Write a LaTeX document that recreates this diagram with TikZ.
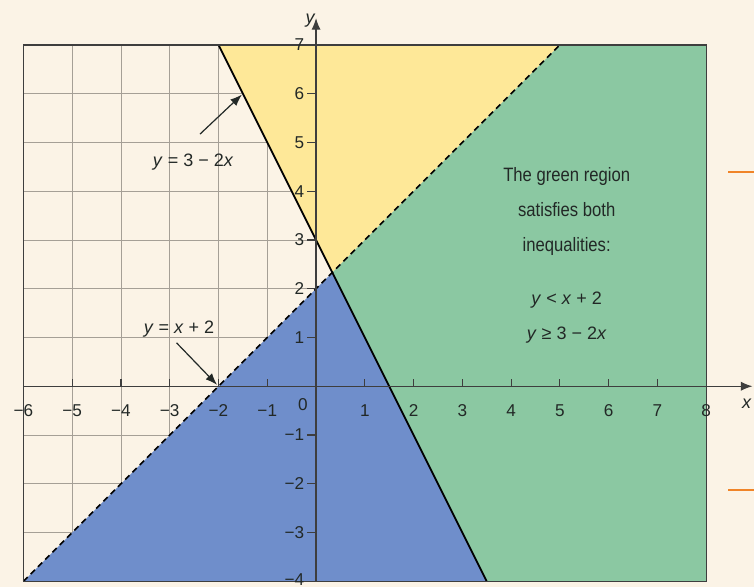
\documentclass[tikz,border=0pt]{standalone}
\usepackage{fontspec}
\setmainfont{Liberation Sans}[FakeStretch=0.86]
\newfontfamily\plainsans{Liberation Sans}
\usepackage{tikz}
\usetikzlibrary{arrows.meta, positioning, calc}
\definecolor{InqCream}{RGB}{251, 243, 230}
\definecolor{InqGrid}{RGB}{165, 159, 150}
\definecolor{InqYellow}{RGB}{254, 232, 152}
\definecolor{InqGreen}{RGB}{139, 200, 162}
\definecolor{InqBlue}{RGB}{111, 142, 203}
\definecolor{InqAxis}{RGB}{62, 62, 62}
\definecolor{InqText}{RGB}{34, 40, 38}
\definecolor{InqOrange}{RGB}{240, 132, 40}

\begin{document}
\begin{tikzpicture}[x=1cm,y=1cm,
    ticklab/.style={font=\plainsans\fontsize{10}{12}\selectfont, text=InqText, inner sep=1pt},
    eqlab/.style={font=\plainsans\fontsize{10.5}{12}\selectfont, text=InqText, inner sep=1pt},
    pointer/.style={InqText, line width=0.7pt, -{Latex[length=2.4mm, width=1.8mm]}}]
  \path[use as bounding box] (-6.48,-4.12) rectangle (8.98,7.92);
  \fill[InqCream] (-6.48,-4.12) rectangle (8.98,7.92);
  \draw[InqGrid, line width=0.5pt] (-6,-4) grid[step=1] (8,7);

  % Regions cut out by y = x + 2 and y = 3 - 2x (they meet at (1/3, 7/3)).
  \fill[InqYellow] (-2,7) -- (5,7) -- (1/3,7/3) -- cycle;
  \fill[InqGreen] (1/3,7/3) -- (5,7) -- (8,7) -- (8,-4) -- (3.5,-4) -- cycle;
  \fill[InqBlue] (-6,-4) -- (1/3,7/3) -- (3.5,-4) -- cycle;

  % Boundary lines
  \draw[black, line width=1pt] (-2,7) -- (3.5,-4);
  \draw[black, line width=1pt, dash pattern=on 3.5pt off 2.5pt] (-6,-4) -- (5,7);
  \draw[InqAxis, line width=0.8pt] (-6,-4) rectangle (8,7);

  % Axes
  \draw[InqAxis, line width=0.8pt, -{Latex[length=2.4mm, width=1.9mm]}] (-6,0) -- (8.95,0);
  \draw[InqAxis, line width=0.8pt, -{Latex[length=2.4mm, width=1.9mm]}] (0,-4) -- (0,7.55);
  \node[ticklab, font=\plainsans\fontsize{10.5}{12}\selectfont\itshape] (xlab) at (8.83,-0.36) {x};
  \node[ticklab, font=\plainsans\fontsize{10.5}{12}\selectfont\itshape] (ylab) at (-0.12,7.5) {y};

  \foreach \x/\t in {-6/−6, -5/−5, -4/−4, -3/−3, -2/−2, -1/−1, 1/1, 2/2, 3/3, 4/4, 5/5, 6/6, 7/7, 8/8} {
    \draw[InqAxis, line width=0.7pt] (\x,0) -- (\x,0.15);
    \node[ticklab] (xt\x) at (\x,-0.5) {\t};
  }
  \foreach \y/\t in {-4/−4, -3/−3, -2/−2, -1/−1, 1/1, 2/2, 3/3, 4/4, 5/5, 6/6, 7/7} {
    \draw[InqAxis, line width=0.7pt] (-0.18,\y) -- (0,\y);
  }
  \foreach \y/\t in {-3/−3, -2/−2, -1/−1, 1/1, 2/2, 3/3, 4/4, 5/5, 6/6, 7/7} {
    \node[ticklab, anchor=east] (yt\y) at (-0.2,\y) {\t};
  }
  \node[ticklab, anchor=east] (yt-4) at (-0.2,-3.96) {−4};
  \node[ticklab] (origin) at (-0.27,-0.38) {0};

  % Line labels
  \coordinate (tipA) at (-1.52,5.98);
  \coordinate (tipB) at (-2.03,0.03);
  \node[eqlab] (labA) at (-2.52,4.6) {\textit{y} = 3 − 2\textit{x}};
  \node[eqlab] (labB) at (-2.81,1.18) {\textit{y} = \textit{x} + 2};
  \draw[pointer] ([shift={(0.14,0.36)}]labA.north) -- (tipA);
  \draw[pointer] ([shift={(-0.05,-0.08)}]labB.south) -- (tipB);

  % Note in the green region
  \node[anchor=north, align=center, inner sep=0pt, text=InqText,
        font=\fontsize{11.3}{20.4}\selectfont] (note) at (5.14,4.5) {
    The green region\\satisfies both\\inequalities:\\[10.6pt]
    {\plainsans\fontsize{10.5}{20.4}\selectfont\textit{y} \textless{} \textit{x} + 2}\\
    {\plainsans\fontsize{10.5}{20.4}\selectfont\textit{y} ≥ 3 − 2\textit{x}}
  };

  % Margin marks
  \draw[InqOrange, line width=1.3pt] (8.45,4.39) -- (8.98,4.39);
  \draw[InqOrange, line width=1.3pt] (8.45,-2.13) -- (8.98,-2.13);
\end{tikzpicture}
\end{document}
